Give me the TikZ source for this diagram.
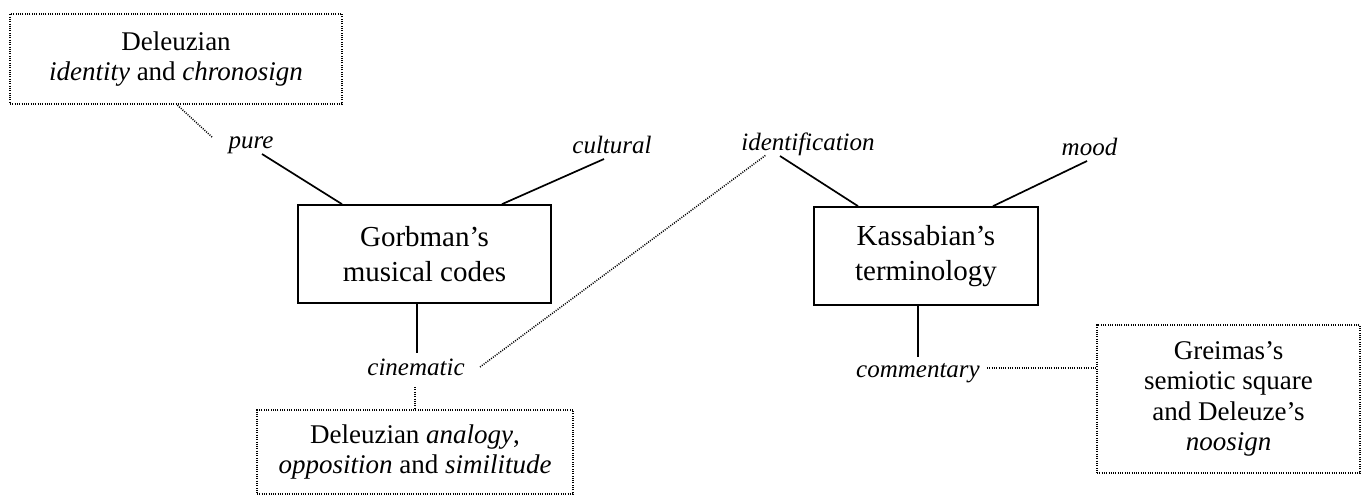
\documentclass[tikz,border=0pt]{standalone}
\usepackage{fontspec}
\setmainfont{Liberation Serif}
\usetikzlibrary{calc}
\begin{document}
\begin{tikzpicture}[x=1pt,y=-1pt,
  mainbox/.style={draw,line width=1.7pt,inner sep=0pt,align=center,font=\fontsize{29}{35}\selectfont},
  dotbox/.style={draw,line width=1.5pt,dash pattern=on 1pt off 1.3pt,inner sep=0pt,align=center,font=\fontsize{27}{30.5}\selectfont},
  lbl/.style={anchor=base,inner sep=0pt,font=\fontsize{25}{28}\selectfont\itshape},
  solidline/.style={line width=1.7pt},
  dotline/.style={line width=1.5pt,dash pattern=on 1pt off 1.3pt}]
\useasboundingbox (0,0) rectangle (1361,495);
% boxes
\node[mainbox,minimum width=253pt,minimum height=98pt] (gor) at (424.5,254) {Gorbman’s\\musical codes};
\node[mainbox,minimum width=224pt,minimum height=98pt] (kas) at (926,256) {Kassabian’s\\terminology};
\node[dotbox,minimum width=332pt,minimum height=90pt] (top) at (176,59) {Deleuzian\\\textit{identity} and \textit{chronosign}};
\node[dotbox,minimum width=316pt,minimum height=84pt] (bot) at (415,452) {Deleuzian \textit{analogy},\\\textit{opposition} and \textit{similitude}};
\node[dotbox,minimum width=263pt,minimum height=148pt] (rgt) at (1228.5,399) {Greimas’s\\semiotic square\\and Deleuze’s\\\textit{noosign}};
% labels
\node[lbl] (pure) at (251,148) {pure};
\node[lbl] (cult) at (612,153) {cultural};
\node[lbl] (ident) at (808,150) {identification};
\node[lbl] (mood) at (1089.5,155) {mood};
\node[lbl] (cin) at (416,375) {cinematic};
\node[lbl] (com) at (918,377) {commentary};
% solid connectors
\draw[solidline] ($(pure.base)+(11,6)$) -- ($(gor.north)+(-82.5,0)$);
\draw[solidline] ($(cult.base)+(-8,6)$) -- ($(gor.north)+(77.5,0)$);
\draw[solidline] ($(gor.south)+(-7.5,0)$) -- ($(cin.base)+(1,-22)$);
\draw[solidline] ($(ident.base)+(-28,6)$) -- ($(kas.north)+(-68,0)$);
\draw[solidline] ($(mood.base)+(-2.5,6)$) -- ($(kas.north)+(67,0)$);
\draw[solidline] ($(kas.south)+(-8,0)$) -- ($(com.base)+(0,-20)$);
% dotted connectors
\draw[dotline] ($(pure.base)+(-39,-11)$) -- ($(top.south)+(1,0)$);
\draw[dotline] ($(cin.base)+(-1,12)$) -- (bot.north);
\draw[dotline] ($(cin.base)+(64,-8)$) -- ($(ident.base)+(-42,5)$);
\draw[dotline] ($(com.base)+(69,-9)$) -- ($(rgt.west)+(0,-31)$);
\end{tikzpicture}
\end{document}
